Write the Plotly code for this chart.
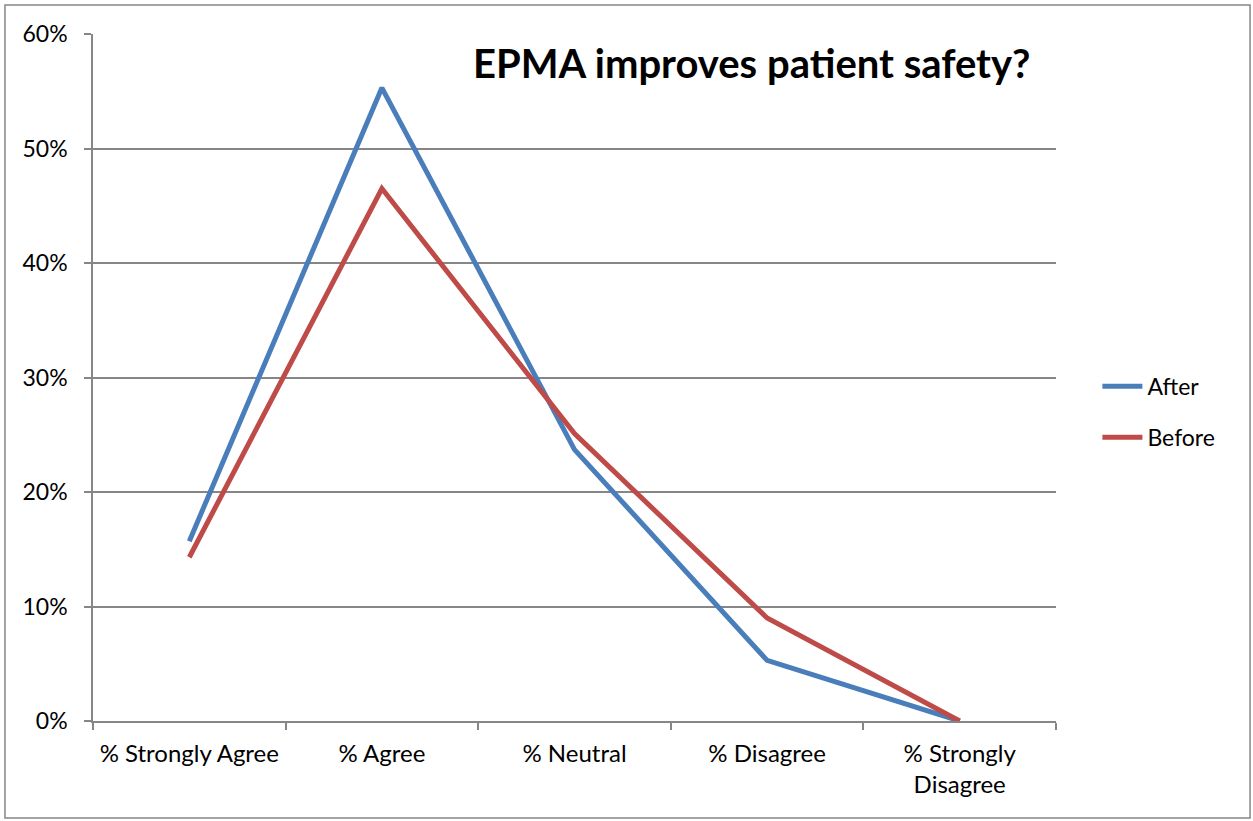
import plotly.graph_objects as go

categories = ["% Strongly Agree", "% Agree", "% Neutral", "% Disagree", "% Strongly<br>Disagree"]
after_vals = [0.157, 0.553, 0.237, 0.053, 0.0]
before_vals = [0.143, 0.465, 0.251, 0.090, 0.0]
y_ticks = [0, 0.1, 0.2, 0.3, 0.4, 0.5, 0.6]
y_tick_labels = ["0%", "10%", "20%", "30%", "40%", "50%", "60%"]

FONT = "Lato, Carlito, Calibri, sans-serif"
GRID = "#868686"

fig = go.Figure()
fig.add_trace(go.Scatter(x=categories, y=after_vals, mode="lines", name="After",
                         legendgroup="a",
                         line=dict(color="#4A7EBB", width=5)))
fig.add_trace(go.Scatter(x=categories, y=before_vals, mode="lines", name="Before",
                         legendgroup="b",
                         line=dict(color="#BE4B48", width=5)))

fig.update_layout(
    width=1253, height=821,
    margin=dict(l=93, r=197, t=34, b=100),
    paper_bgcolor="white", plot_bgcolor="white",
    font=dict(family=FONT, size=22, color="black"),
    showlegend=True,
    legend=dict(x=1.043, y=0.45, xanchor="left", yanchor="middle",
                font=dict(size=23), tracegroupgap=18, itemwidth=40,
                bgcolor="rgba(0,0,0,0)"),
    xaxis=dict(type="category", range=[-0.5, 4.5], tickson="boundaries",
               ticks="outside", ticklen=7, tickcolor=GRID, tickwidth=1.5,
               showline=True, linecolor=GRID, linewidth=1.5,
               showgrid=False, zeroline=False, ticklabelstandoff=10,
               tickfont=dict(size=24, family=FONT)),
    yaxis=dict(range=[0, 0.6], tickvals=y_ticks, ticktext=y_tick_labels,
               ticks="outside", ticklen=7, tickcolor=GRID, tickwidth=1.5,
               showline=True, linecolor=GRID, linewidth=1.5,
               showgrid=True, gridcolor=GRID, gridwidth=1.5, zeroline=False,
               ticklabelstandoff=12,
               tickfont=dict(size=23, family=FONT)),
    annotations=[dict(text="<b>EPMA improves patient safety?</b>", xref="paper", yref="paper",
                      x=0.976, y=0.958, xanchor="right", yanchor="middle", showarrow=False,
                      font=dict(size=40, family=FONT, color="black"))],
    shapes=[dict(type="rect", xref="paper", yref="paper",
                 x0=-0.0914, x1=1.2015, y0=-0.1412, y1=1.0422,
                 line=dict(color=GRID, width=1.5), fillcolor="rgba(0,0,0,0)", layer="below")],
)

fig.write_html("out.html", config={"displayModeBar": False},
               post_script="document.body.style.margin='0';document.body.style.overflow='hidden';")
